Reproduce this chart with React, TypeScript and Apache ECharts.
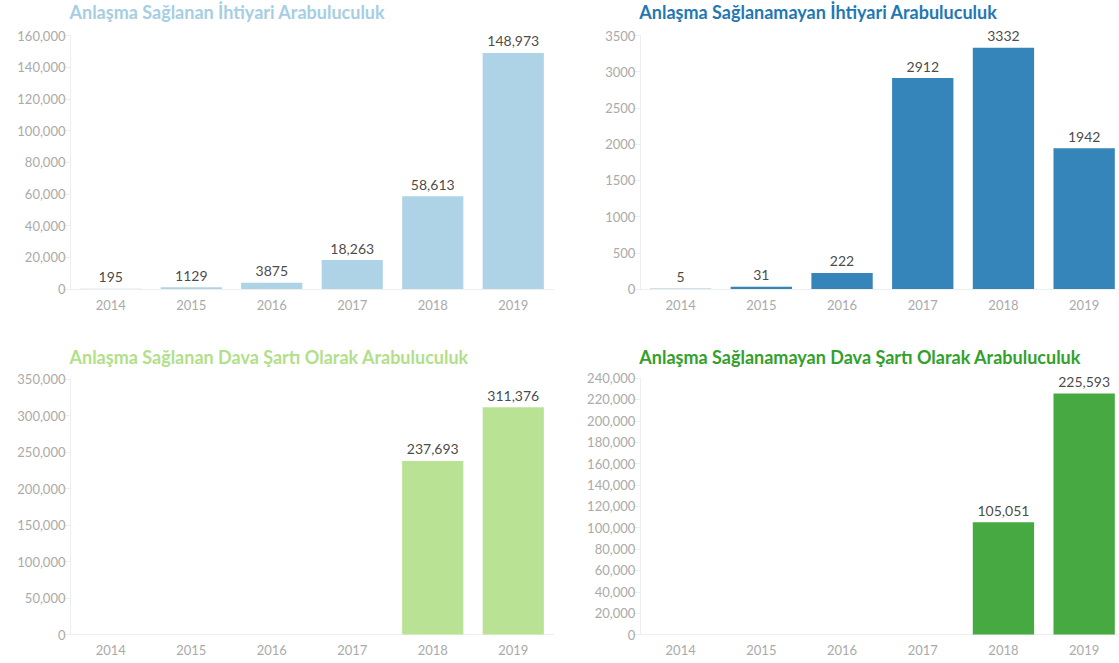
import React, { useEffect, useRef } from "react";
import * as echarts from "echarts";

const years = ["2014", "2015", "2016", "2017", "2018", "2019"];
const ihtiyariSaglanan = [195, 1129, 3875, 18263, 58613, 148973];
const ihtiyariSaglanamayan = [5, 31, 222, 2912, 3332, 1942];
const davaSaglanan = [null, null, null, null, 237693, 311376];
const davaSaglanamayan = [null, null, null, null, 105051, 225593];

const titles = [
  "Anlaşma Sağlanan İhtiyari Arabuluculuk",
  "Anlaşma Sağlanamayan İhtiyari Arabuluculuk",
  "Anlaşma Sağlanan Dava Şartı Olarak Arabuluculuk",
  "Anlaşma Sağlanamayan Dava Şartı Olarak Arabuluculuk",
];
const titleColors = ["#a6cee3", "#1f78b4", "#b2df8a", "#33a02c"];
const yMax = [160000, 3500, 350000, 240000];
const yInterval = [20000, 500, 50000, 20000];

const FONT = "Lato, 'Noto Sans', sans-serif";

const fmt = (v: number) =>
  v >= 10000 ? v.toString().replace(/\B(?=(\d{3})+(?!\d))/g, ",") : String(v);

export default function App() {
  const ref = useRef<HTMLDivElement>(null);
  useEffect(() => {
    const chart = echarts.init(ref.current!, null, { renderer: "svg" });
    const data = [ihtiyariSaglanan, ihtiyariSaglanamayan, davaSaglanan, davaSaglanamayan];
    const grids = [
      { left: 70.5, top: 35.5, width: 483, height: 253.5, outerBoundsMode: "none" },
      { left: 640.3, top: 35.5, width: 484.2, height: 253.5, outerBoundsMode: "none" },
      { left: 70.5, top: 379, width: 483, height: 255.5, outerBoundsMode: "none" },
      { left: 640.3, top: 378, width: 484.2, height: 256.5, outerBoundsMode: "none" },
    ];
    const titleTops = [-2, -2, 343, 343];
    chart.setOption({
      animation: false,
      textStyle: { fontFamily: FONT },
      title: titles.map((t, i) => ({
        text: t,
        left: grids[i].left - 6,
        top: titleTops[i],
        textStyle: {
          color: titleColors[i],
          fontSize: 18,
          fontWeight: "bold",
          fontFamily: FONT,
        },
      })),
      grid: grids,
      xAxis: grids.map((_, i) => ({
        type: "category",
        gridIndex: i,
        data: years,
        axisLine: { lineStyle: { color: "#eeeeee" } },
        axisTick: { alignWithLabel: true, length: 5, lineStyle: { color: "#eeeeee" } },
        axisLabel: { color: "#aaaaaa", fontSize: 13, margin: 9, fontFamily: FONT },
      })),
      yAxis: grids.map((_, i) => ({
        type: "value",
        gridIndex: i,
        min: 0,
        max: yMax[i],
        interval: yInterval[i],
        splitLine: { show: false },
        axisLine: { show: true, lineStyle: { color: "#eeeeee" } },
        axisTick: { show: true, length: 8, lineStyle: { color: "#eeeeee" } },
        axisLabel: {
          color: "#aaaaaa",
          fontSize: 13,
          margin: 5,
          fontFamily: FONT,
          formatter: (v: number) => fmt(v),
        },
      })),
      series: data.map((d, i) => ({
        type: "bar",
        xAxisIndex: i,
        yAxisIndex: i,
        data: d,
        barCategoryGap: "24%",
        itemStyle: { color: titleColors[i], opacity: 0.9 },
        label: {
          show: true,
          position: "top",
          distance: 5,
          color: "#333333",
          fontSize: 14,
          fontFamily: FONT,
          formatter: (p: any) => (p.value == null ? "" : fmt(p.value)),
        },
      })),
    });
    return () => chart.dispose();
  }, []);
  return (
    <div
      ref={ref}
      style={{ position: "absolute", left: 0, top: 0, width: 1119, height: 663 }}
    />
  );
}
